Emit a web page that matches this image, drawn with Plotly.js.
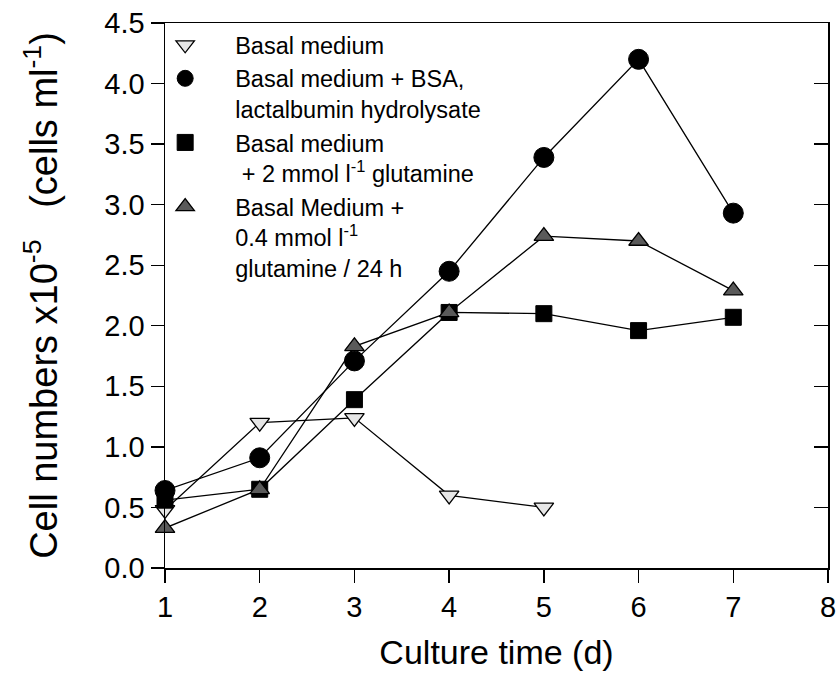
<!DOCTYPE html>
<html>
<head>
<meta charset="utf-8">
<script src="https://cdn.plot.ly/plotly-3.0.1.min.js"></script>
<style>html,body{margin:0;padding:0;background:#fff;}#chart{width:840px;height:680px;}</style>
</head>
<body>
<div id="chart"></div>
<script>
// Culture time (d)
const daysBasal = [1, 2, 3, 4, 5];
const daysAll = [1, 2, 3, 4, 5, 6, 7];
// Cell numbers x10^-5 (cells ml^-1)
const basalMedium = [0.48, 1.20, 1.24, 0.60, 0.50];
const basalBSA = [0.64, 0.91, 1.71, 2.45, 3.39, 4.20, 2.93];
const basalGlut2 = [0.56, 0.65, 1.39, 2.11, 2.10, 1.96, 2.07];
const basalGlut04 = [0.33, 0.65, 1.83, 2.11, 2.74, 2.70, 2.29];
const seriesNames = [
  'Basal medium',
  'Basal medium + BSA,<br>lactalbumin hydrolysate',
  'Basal medium<br> + 2 mmol l<sup>-1</sup> glutamine',
  'Basal Medium +<br>0.4 mmol l<sup>-1</sup><br>glutamine / 24 h'
];
const xTicks = [1, 2, 3, 4, 5, 6, 7, 8];
const yTicks = [0, 0.5, 1, 1.5, 2, 2.5, 3, 3.5, 4, 4.5];
const yTickText = ['0.0', '0.5', '1.0', '1.5', '2.0', '2.5', '3.0', '3.5', '4.0', '4.5'];

const lineStyle = {color: '#000', width: 1.3};
const seriesX = [daysBasal, daysAll, daysAll, daysAll];
const seriesY = [basalMedium, basalBSA, basalGlut2, basalGlut04];
const markers = [
  {symbol: 'triangle-down', size: 17, color: '#e6e6e6', line: {color: '#000', width: 1.3}},
  {symbol: 'circle', size: 20, color: '#000', line: {color: '#000', width: 1}},
  {symbol: 'square', size: 16, color: '#000', line: {color: '#000', width: 1}},
  {symbol: 'triangle-up', size: 17, color: '#5a5a5a', line: {color: '#000', width: 1.3}}
];
const traces = [];
for (let i = 0; i < 4; i++) {
  traces.push({x: seriesX[i], y: seriesY[i], mode: 'lines', line: lineStyle,
    showlegend: false, hoverinfo: 'skip', cliponaxis: false});
  traces.push({x: seriesX[i], y: seriesY[i], name: seriesNames[i], mode: 'markers',
    marker: markers[i], cliponaxis: false});
}
traces.push({x: [], y: [], yaxis: 'y2', showlegend: false, hoverinfo: 'skip'});

const font = 'Liberation Sans, Arial, sans-serif';
const layout = {
  width: 840, height: 680,
  margin: {l: 165, r: 12, t: 23, b: 112},
  paper_bgcolor: '#fff', plot_bgcolor: '#fff',
  font: {family: font, color: '#000'},
  showlegend: true,
  legend: {
    x: -0.045, y: 1.0, xanchor: 'left', yanchor: 'top',
    bgcolor: 'rgba(0,0,0,0)', borderwidth: 0,
    font: {family: font, size: 23.5, color: '#000'},
    valign: 'top', itemwidth: 90, itemsizing: 'trace'
  },
  xaxis: {
    range: [1, 8], tickvals: xTicks, ticktext: xTicks.map(String),
    showline: true, linecolor: '#000', linewidth: 1.5, mirror: true,
    ticks: 'outside', ticklen: 13, tickwidth: 1.3, tickcolor: '#000',
    showgrid: false, zeroline: false,
    tickfont: {family: font, size: 29},
    title: {text: 'Culture time (d)', font: {family: font, size: 34}, standoff: 18}
  },
  yaxis: {
    range: [0, 4.5], tickvals: yTicks, ticktext: yTickText,
    showline: true, linecolor: '#000', linewidth: 1.5, mirror: true,
    ticks: 'outside', ticklen: 13, tickwidth: 1.3, tickcolor: '#000',
    showgrid: false, zeroline: false,
    tickfont: {family: font, size: 29},
    title: {text: 'Cell numbers x10<sup>-5</sup>&nbsp;&nbsp;&nbsp;(cells ml<sup>-1</sup>)', font: {family: font, size: 38}, standoff: 35}
  },
  yaxis2: {
    range: [0, 4.5], tickvals: yTicks, overlaying: 'y', side: 'right', anchor: 'x',
    showline: false, ticks: 'inside', ticklen: 14, tickwidth: 1.3, tickcolor: '#000',
    showticklabels: false, showgrid: false, zeroline: false
  }
};

Plotly.newPlot('chart', traces, layout, {displayModeBar: false, staticPlot: true});
</script>
</body>
</html>
